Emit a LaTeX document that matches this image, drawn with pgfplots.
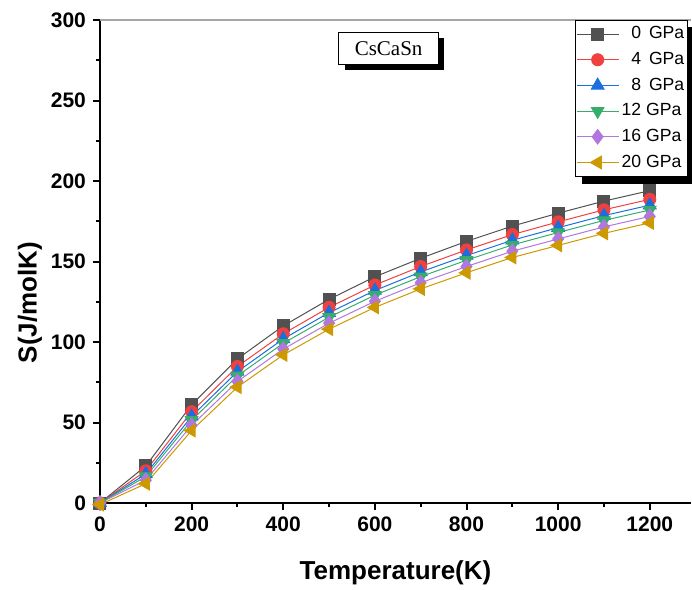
\documentclass[border=0pt]{standalone}
\usepackage{fontspec}
\setmainfont{Liberation Sans}
\newfontfamily\seriffont{Liberation Serif}
\usepackage{pgfplots}
\pgfplotsset{compat=1.18}
\usetikzlibrary{shadows}

\definecolor{c0}{HTML}{515151}
\definecolor{c4}{HTML}{F14040}
\definecolor{c8}{HTML}{1A6FDF}
\definecolor{c12}{HTML}{37AD6B}
\definecolor{c16}{HTML}{B177DE}
\definecolor{c20}{HTML}{CC9900}

% entropy S (J/molK) vs temperature, one column per pressure
\pgfplotstableread{
T S0 S4 S8 S12 S16 S20
0 0 0 0 0 0 -1
100 23 20.0 18.0 16.4 14.2 12
200 61 56.7 53.8 51.4 48.2 45
300 89.5 84.8 81.6 79 75.5 72
400 110 105.1 101.9 99.2 95.6 92
500 126.5 121.5 118.2 115.4 111.7 108
600 140.5 135.4 132 129.1 125.3 121.5
700 152 146.9 143.5 140.6 136.8 133
800 162.5 157.2 153.7 150.8 146.9 143
900 172 166.7 163.2 160.3 156.4 152.5
1000 180 174.6 171 168 164 160
1100 187.5 182.1 178.5 175.5 171.5 167.5
1200 194 188.6 185 182 178 174
}\entropy

\begin{document}
\begin{tikzpicture}
\begin{axis}[
    scale only axis,
    width=295.5pt, height=241.5pt,
    xmin=0, xmax=1290, ymin=0, ymax=300,
    axis x line*=bottom, axis y line*=left,
    xtick={0,200,...,1200}, minor x tick num=1,
    ytick={0,50,...,300}, minor y tick num=1,
    tick align=outside,
    major tick length=3.5pt, minor tick length=2pt,
    axis line style={line width=1pt},
    every tick/.style={black, line width=1pt},
    tick label style={font=\fontsize{10.5}{12}\selectfont\bfseries},
    /pgf/number format/assume math mode=true,
    /pgf/number format/1000 sep={},
    xlabel={Temperature(K)},
    ylabel={S(J/molK)},
    label style={font=\fontsize{13}{15}\selectfont\bfseries},
    xlabel style={at={(axis description cs:0.5,0)}, anchor=center, yshift=-35pt},
    ylabel style={at={(axis description cs:0,0.415)}, anchor=center, yshift=35pt},
    clip=false,
    legend style={at={(axis description cs:0.995,1)}, anchor=north east,
      name=leg, font=\fontsize{8.8}{10}\selectfont, draw=black, fill=white,
      inner xsep=0.5pt, inner ysep=1pt, row sep=1.2pt,
      nodes={inner xsep=1.2pt}},
    legend cell align=left,
    legend image code/.code={
      \draw (0cm,0cm) -- (0.74cm,0cm);
      \draw plot coordinates {(0.37cm,0cm)};},
    every axis plot/.append style={line width=0.5pt},
]
\draw[gray!70, line width=0.7pt] (rel axis cs:0,1) -- (rel axis cs:1,1);
\addplot[c0, mark=square*, mark size=3pt, mark options={fill=c0}] table[x=T, y=S0] {\entropy};
\addplot[c4, mark=*, mark size=3pt, mark options={fill=c4}] table[x=T, y=S4] {\entropy};
\addplot[c8, mark=triangle*, mark size=3.6pt, mark options={fill=c8}] table[x=T, y=S8] {\entropy};
\addplot[c12, mark=triangle*, mark size=3.6pt, mark options={fill=c12, rotate=180}] table[x=T, y=S12] {\entropy};
\addplot[c16, mark=diamond*, mark size=3.6pt, mark options={fill=c16}] table[x=T, y=S16] {\entropy};
\addplot[c20, mark=triangle*, mark size=3.6pt, mark options={fill=c20, rotate=90}] table[x=T, y=S20] {\entropy};
\legend{\hphantom{1}0\ \,GPa, \hphantom{1}4\ \,GPa, \hphantom{1}8\ \,GPa, 12 GPa, 16 GPa, 20 GPa}
\node[draw=black, fill=white, line width=0.6pt,
      drop shadow={shadow xshift=3pt, shadow yshift=-3pt, fill=black, opacity=1},
      font=\seriffont\fontsize{10.5}{12}\selectfont, inner xsep=8pt, inner ysep=4.5pt]
      at (axis cs:630,282.5) {CsCaSn};
\end{axis}
% legend shadow, drawn by hand so it does not leak into the legend images
\fill[black] ([xshift=3.5pt, yshift=-3.5pt]leg.south west) rectangle ([xshift=3.5pt]leg.south east);
\fill[black] ([yshift=-3.5pt]leg.north east) rectangle ([xshift=3.5pt, yshift=-3.5pt]leg.south east);
\pgfresetboundingbox
\path[use as bounding box] (-50pt,-43.5pt) rectangle (296pt,251.5pt);
\end{tikzpicture}
\end{document}
